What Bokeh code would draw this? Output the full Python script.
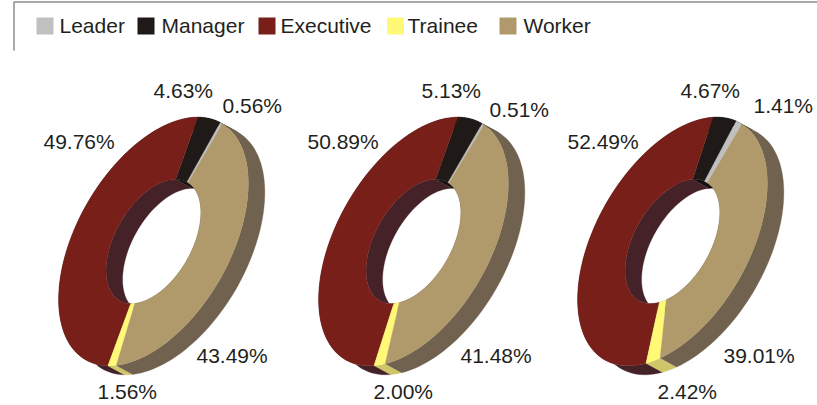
import numpy as np
from bokeh.embed import file_html
from bokeh.models import Range1d
from bokeh.plotting import figure
from bokeh.resources import INLINE
from bokeh.core.properties import value

categories = ["Leader", "Manager", "Executive", "Trainee", "Worker"]
chart_1 = [0.56, 4.63, 49.76, 1.56, 43.49]
chart_2 = [0.51, 5.13, 50.89, 2.00, 41.48]
chart_3 = [1.41, 4.67, 52.49, 2.42, 39.01]

top_colors = ["#c0c0c0", "#1f1a17", "#771f18", "#fff976", "#b09a6c"]
wall_colors = ["#9a9a9a", "#14100f", "#452228", "#cfc66a", "#70624f"]

W, H = 817, 405
p = figure(width=W, height=H, output_backend="svg", toolbar_location=None,
           x_range=Range1d(0, W), y_range=Range1d(H, 0),
           min_border=0, outline_line_color=None,
           styles={"position": "absolute", "left": "0px", "top": "0px"})
p.axis.visible = False
p.grid.visible = False

U = np.array([70.0, -117.0])
V = np.array([-64.0, -42.0])
DEPTH = np.array([16.5, 9.0])
HOLE = 0.5


def ring_point(c, th, r=1.0):
    th = np.asarray(th)[:, None]
    return np.asarray(c) + r * (np.cos(th) * U + np.sin(th) * V)


def draw_donut(vals, centre, rot_deg):
    fr = np.cumsum([0.0] + list(vals)) / sum(vals)
    ang = np.radians(rot_deg) + fr * 2 * np.pi
    for r in (1.0, HOLE):
        xs, ys, cols = [], [], []
        for i in range(len(vals)):
            t = np.linspace(ang[i], ang[i + 1], 60)
            a = ring_point(centre, t, r)
            b = a + DEPTH
            poly = np.vstack([a, b[::-1]])
            xs.append(poly[:, 0]); ys.append(poly[:, 1]); cols.append(wall_colors[i])
        p.patches(xs, ys, fill_color=cols, line_color=cols, line_width=0.3)
    xs, ys, cols = [], [], []
    for i in range(len(vals)):
        t = np.linspace(ang[i], ang[i + 1], 90)
        poly = np.vstack([ring_point(centre, t), ring_point(centre, t[::-1], HOLE)])
        xs.append(poly[:, 0]); ys.append(poly[:, 1]); cols.append(top_colors[i])
    p.patches(xs, ys, fill_color=cols, line_color=cols, line_width=0.3)


draw_donut(chart_1, (153, 241), 1.0)
draw_donut(chart_2, (413, 241), -0.5)
draw_donut(chart_3, (672, 241), 0.5)

TEXT = "#231f20"
FONT = value("Liberation Sans")
SHIFT = 8  # svg text sits lower than its anchor


def label(xs, ys, txt, size="21px"):
    p.text([x - 1 for x in xs], [y - SHIFT for y in ys], text=txt, text_font=FONT, text_font_size=size,
           text_color=TEXT, text_align="left", text_baseline="alphabetic")


def pct(vals):
    return [f"{vals[1]:.2f}%", f"{vals[0]:.2f}%", f"{vals[2]:.2f}%", f"{vals[4]:.2f}%", f"{vals[3]:.2f}%"]


label([154, 223, 44, 197, 98], [98, 113, 149, 363, 399], pct(chart_1))
label([422, 490, 308, 461, 374], [98, 117, 149, 363, 399], pct(chart_2))
label([681, 754, 568, 724, 658], [98, 113, 149, 363, 399], pct(chart_3))

# legend
sw_left = [36, 137, 258, 386.5, 499]
txt_left = [60, 162, 281, 408, 524]
p.quad(left=sw_left, right=[v + 17 for v in sw_left], top=[17] * 5, bottom=[34] * 5,
       fill_color=top_colors, line_color=None)
label(txt_left, [33] * 5, categories)
p.line([13.5, 13.5, W], [50, 1.5, 1.5], line_color="#8c8c8c", line_width=1.5)

open("out.html", "w").write(file_html(p, INLINE))
